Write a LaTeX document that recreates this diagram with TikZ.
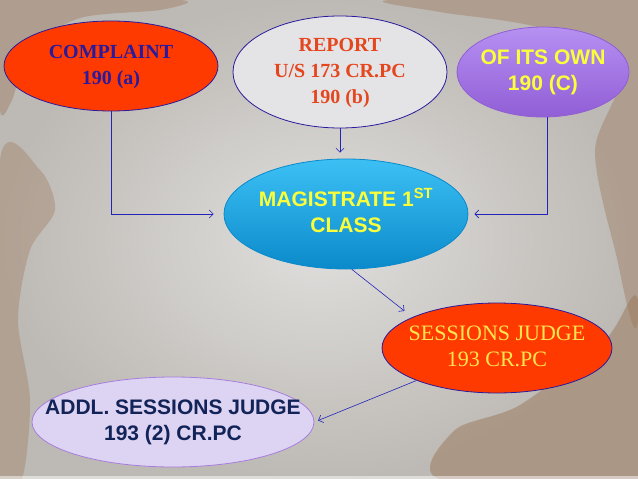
\documentclass[tikz,border=0pt]{standalone}
\usepackage{fontspec}
\setmainfont{Liberation Serif}
\setsansfont{Liberation Sans}
\usepackage{xcolor}
\usepackage{tikz}
\usetikzlibrary{positioning,arrows.meta,shapes.geometric,calc}

\definecolor{bglight}{HTML}{E0DFDD}
\definecolor{bgdark}{HTML}{BDB9B4}
\definecolor{brush}{HTML}{9A7658}
\definecolor{linkblue}{HTML}{2323B8}
\definecolor{redfill}{HTML}{FF3A00}
\definecolor{indigo}{HTML}{2A1A9C}
\definecolor{reportfill}{HTML}{E4E4E6}
\definecolor{reporttext}{HTML}{E4461E}
\definecolor{owntop}{HTML}{B690F2}
\definecolor{ownbottom}{HTML}{915ED6}
\definecolor{magtop}{HTML}{3CC0F4}
\definecolor{magbottom}{HTML}{0B8ACB}
\definecolor{yellowtext}{HTML}{FAFF3A}
\definecolor{goldtext}{HTML}{FFE650}
\definecolor{addlfill}{HTML}{DDD3F2}
\definecolor{addltext}{HTML}{122358}

\tikzset{
  oval/.style={ellipse, inner sep=0pt, line width=0.8pt},
  serifbig/.style={font=\fontsize{20}{26}\selectfont\bfseries},
  sansbig/.style={font=\fontsize{21}{26}\sffamily\selectfont\bfseries},
  link/.style={draw=linkblue, line width=0.6pt, -{Straight Barb[length=4pt,width=8pt]}},
}
\newcommand{\ovaltext}[1]{\makebox[0pt]{\begin{tabular}{@{}c@{}}#1\end{tabular}}}

\begin{document}
\begin{tikzpicture}[x=1pt,y=-1pt]
        \useasboundingbox (0,0) rectangle (638,479);

        % background
        \shade[inner color=bglight, outer color=bgdark] (0,0) rectangle (638,479);
        \fill[brush, opacity=0.4] plot[smooth cycle] coordinates {(0,0) (180,0) (160,10) (80,18) (30,50) (12,100) (0,110)};
        \fill[brush, opacity=0.35] plot[smooth cycle] coordinates {(0,160) (40,170) (55,210) (30,250) (18,320) (30,400) (22,479) (0,479)};
        \fill[brush, opacity=0.4] plot[smooth cycle] coordinates {(390,0) (638,0) (638,320) (615,250) (595,150) (620,70) (540,28) (440,12)};
        \fill[brush, opacity=0.5] plot[smooth cycle] coordinates {(638,300) (638,479) (440,479) (455,430) (520,405) (605,340)};
        \fill[white, opacity=0.5] (0,476) rectangle (638,479);

        % ovals
        \node[oval, draw=indigo, fill=redfill, text=indigo, serifbig, minimum width=214pt, minimum height=90pt] (complaint) at (111,66) {\ovaltext{COMPLAINT\\190 (a)}};
        \node[oval, draw=indigo, fill=reportfill, text=reporttext, serifbig, minimum width=214pt, minimum height=112pt] (report) at (340,72) {\ovaltext{REPORT\\U/S 173 CR.PC\\190 (b)}};
        \node[oval, draw=ownbottom, top color=owntop, bottom color=ownbottom, text=yellowtext, sansbig, minimum width=172pt, minimum height=90pt] (own) at (543,72) {\ovaltext{OF ITS OWN\\190 (C)}};
        \node[oval, draw=magbottom, top color=magtop, bottom color=magbottom, text=yellowtext, sansbig, minimum width=244pt, minimum height=110pt] (magistrate) at (346,214) {\ovaltext{MAGISTRATE 1\textsuperscript{ST}\\CLASS}};
        \node[oval, draw=indigo, fill=redfill, text=goldtext, font=\fontsize{22}{26}\selectfont, minimum width=230pt, minimum height=90pt] (sessions) at (497,348) {\ovaltext{SESSIONS JUDGE\\193 CR.PC}};
        \node[oval, draw=ownbottom!80, fill=addlfill, text=addltext, sansbig, minimum width=282pt, minimum height=90pt] (addl) at (173,422) {\ovaltext{ADDL. SESSIONS JUDGE\\193 (2) CR.PC}};

        % links
        \draw[link, shorten >=10pt] (complaint.south) |- (magistrate.west);
        \draw[link, shorten >=6pt] (report.south) -- (report.south |- magistrate.north);
        \draw[link, shorten >=6pt] ([xshift=4pt]own.south) |- (magistrate.east);
        \draw[link, shorten >=10pt] (magistrate.-84) -- (sessions.160);
        \draw[link, shorten >=4pt] (sessions.202) -- (addl.east);
\end{tikzpicture}
\end{document}
